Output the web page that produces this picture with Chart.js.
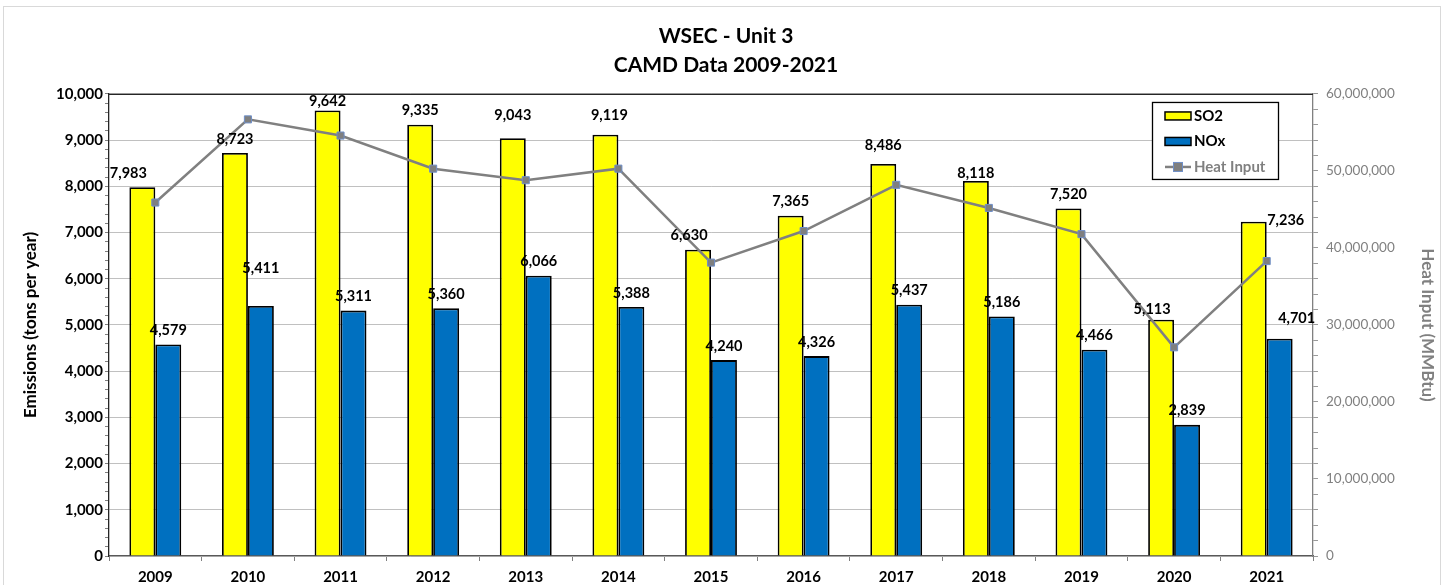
<!DOCTYPE html>
<html>
<head>
<meta charset="utf-8">
<script src="https://cdn.jsdelivr.net/npm/chart.js@4.4.1/dist/chart.umd.min.js"></script>
<style>
  html, body { margin: 0; padding: 0; background: #fff; }
  #wrap { width: 1447px; height: 585px; position: relative; }
</style>
</head>
<body>
<div id="wrap"><canvas id="myChart" width="1447" height="585"></canvas></div>
<script>
// data
var years = ["2009", "2010", "2011", "2012", "2013", "2014", "2015", "2016", "2017", "2018", "2019", "2020", "2021"];
var so2 = [7983, 8723, 9642, 9335, 9043, 9119, 6630, 7365, 8486, 8118, 7520, 5113, 7236];
var nox = [4579, 5411, 5311, 5360, 6066, 5388, 4240, 4326, 5437, 5186, 4466, 2839, 4701];
var heatInput = [45900000, 56700000, 54600000, 50300000, 48800000, 50300000, 38100000, 42200000, 48200000, 45200000, 41800000, 27100000, 38300000];
var titleLines = ["WSEC - Unit 3", "CAMD Data 2009-2021"];

var FONT = "Lato, 'Open Sans', sans-serif";

// label nudges (the excel labels were dragged around a bit) [dx, dy]
var so2Nudge = { 0: [-14, 0], 2: [0, 5], 4: [0, -9], 5: [4, -5], 6: [-9, 0], 8: [0, -5], 9: [0, 6], 11: [-9, 4], 12: [32, 13] };
var noxNudge = { 1: [0, -24], 12: [17, -6] };

function fmt(n) {
    return n.toLocaleString("en-US");
}

// bar value labels
var barLabels = {
    id: "barLabels",
    afterDatasetsDraw: function(chart) {
        var ctx = chart.ctx;
        ctx.save();
        ctx.font = "bold 14.5px " + FONT;
        ctx.fillStyle = "#000";
        ctx.textAlign = "center";
        ctx.textBaseline = "middle";
        [0, 1].forEach(function(di) {
            var meta = chart.getDatasetMeta(di);
            var nudge = di == 0 ? so2Nudge : noxNudge;
            meta.data.forEach(function(bar, i) {
                var d = nudge[i] || [0, 0];
                var v = chart.data.datasets[di].data[i];
                ctx.fillText(fmt(v), bar.x + d[0], bar.y - 14 + d[1]);
            });
        });
        ctx.restore();
    }
};

// plot border, outer frame and the boxed legend
var frame = {
    id: "frame",
    beforeDraw: function(chart) {
        var ctx = chart.ctx;
        ctx.save();
        ctx.strokeStyle = "#d9d9d9";
        ctx.lineWidth = 1;
        ctx.strokeRect(3.5, 6.5, 1437, 620);
        ctx.restore();
    },
    afterDraw: function(chart) {
        var ctx = chart.ctx;
        var a = chart.chartArea;
        ctx.save();
        ctx.strokeStyle = "#262626";
        ctx.lineWidth = 1.3;
        ctx.beginPath();
        ctx.moveTo(a.left, a.top + 0.5);
        ctx.lineTo(a.right, a.top + 0.5);
        ctx.stroke();

        // legend
        var lx = a.right - 161, ly = a.top + 8;
        ctx.fillStyle = "#fff";
        ctx.fillRect(lx, ly, 126, 77);
        ctx.strokeStyle = "#000";
        ctx.lineWidth = 1.3;
        ctx.strokeRect(lx + 0.5, ly + 0.5, 126, 77);
        ctx.font = "bold 15px " + FONT;
        ctx.textBaseline = "middle";
        ctx.textAlign = "left";
        var items = chart.data.datasets;
        items.forEach(function(ds, k) {
            var cy = ly + 14 + k * 25.5;
            var sx = lx + 13;
            if (ds.type == "line") {
                ctx.strokeStyle = ds.borderColor;
                ctx.lineWidth = 2.5;
                ctx.beginPath();
                ctx.moveTo(sx, cy);
                ctx.lineTo(sx + 26, cy);
                ctx.stroke();
                ctx.fillStyle = ds.pointBackgroundColor;
                ctx.fillRect(sx + 8.5, cy - 4.5, 9, 9);
                ctx.strokeStyle = ds.pointBorderColor;
                ctx.lineWidth = 1;
                ctx.strokeRect(sx + 8.5, cy - 4.5, 9, 9);
                ctx.fillStyle = "#808080";
            } else {
                ctx.fillStyle = ds.backgroundColor;
                ctx.fillRect(sx, cy - 4, 26, 8);
                ctx.strokeStyle = "#000";
                ctx.lineWidth = 1.5;
                ctx.strokeRect(sx, cy - 4, 26, 8);
                ctx.fillStyle = "#000";
            }
            ctx.fillText(ds.label, sx + 29, cy);
        });
        ctx.restore();
    }
};

var ctx = document.getElementById("myChart").getContext("2d");

var chart = new Chart(ctx, {
    type: "bar",
    data: {
        labels: years,
        datasets: [{
            label: "SO2",
            data: so2,
            backgroundColor: "#ffff00",
            borderColor: "#000",
            borderWidth: 1.8,
            yAxisID: "y",
            order: 2
        }, {
            label: "NOx",
            data: nox,
            backgroundColor: "#0070c0",
            borderColor: "#000",
            borderWidth: 1.8,
            yAxisID: "y",
            order: 2
        }, {
            type: "line",
            label: "Heat Input",
            data: heatInput,
            borderColor: "#808080",
            borderWidth: 2.5,
            pointStyle: "rect",
            pointRadius: 5,
            pointBackgroundColor: "#7f7f7f",
            pointBorderColor: "#6f8fc8",
            pointBorderWidth: 1,
            yAxisID: "y1",
            order: 1
        }]
    },
    options: {
        responsive: false,
        animation: false,
        datasets: {
            bar: { categoryPercentage: 0.56, barPercentage: 1 }
        },
        layout: { padding: { top: 6, left: 14, right: 9, bottom: 0 } },
        plugins: {
            legend: { display: false },
            tooltip: { enabled: false },
            title: {
                display: true,
                text: titleLines,
                color: "#000",
                font: { family: FONT, size: 21, weight: "bold", lineHeight: 1.38 },
                padding: { top: 16, bottom: 14 }
            }
        },
        scales: {
            x: {
                grid: {
                    offset: true,
                    drawOnChartArea: false,
                    color: "#808080",
                    tickLength: 5
                },
                border: { color: "#595959", width: 1.3 },
                ticks: {
                    color: "#000",
                    padding: 7,
                    font: { family: FONT, size: 15, weight: "bold" }
                },
                afterFit: function(s) { s.height = 29; }
            },
            y: {
                position: "left",
                min: 0,
                max: 10000,
                ticks: {
                    stepSize: 200,
                    autoSkip: false,
                    color: "#000",
                    padding: 2,
                    font: { family: FONT, size: 15, weight: "bold" },
                    callback: function(v) { return v % 1000 == 0 ? fmt(v) : ""; }
                },
                grid: {
                    tickLength: 4,
                    color: function(c) { return c.tick.value % 1000 == 0 ? "#c0c0c0" : "rgba(0,0,0,0)"; },
                    tickColor: "#7f7f7f"
                },
                border: { color: "#262626", width: 1.3 },
                title: {
                    display: true,
                    text: "Emissions (tons per year)",
                    color: "#000",
                    font: { family: FONT, size: 17, weight: "bold" },
                    padding: { top: 6, bottom: 0 }
                },
                afterFit: function(s) { s.width = 95; }
            },
            y1: {
                position: "right",
                min: 0,
                max: 60000000,
                ticks: {
                    stepSize: 2000000,
                    autoSkip: false,
                    color: "#808080",
                    padding: 8,
                    font: { family: FONT, size: 13.5 },
                    callback: function(v) { return v % 10000000 == 0 ? fmt(v) : ""; }
                },
                grid: {
                    drawOnChartArea: false,
                    tickLength: 5,
                    tickColor: "#9a9a9a"
                },
                border: { color: "#808080", width: 1.3 },
                title: {
                    display: true,
                    text: "Heat Input (MMBtu)",
                    color: "#808080",
                    font: { family: FONT, size: 17, weight: "bold" },
                    padding: { top: 0, bottom: 2 }
                },
                afterFit: function(s) { s.width = 125; }
            }
        }
    },
    plugins: [barLabels, frame]
});
</script>
</body>
</html>
